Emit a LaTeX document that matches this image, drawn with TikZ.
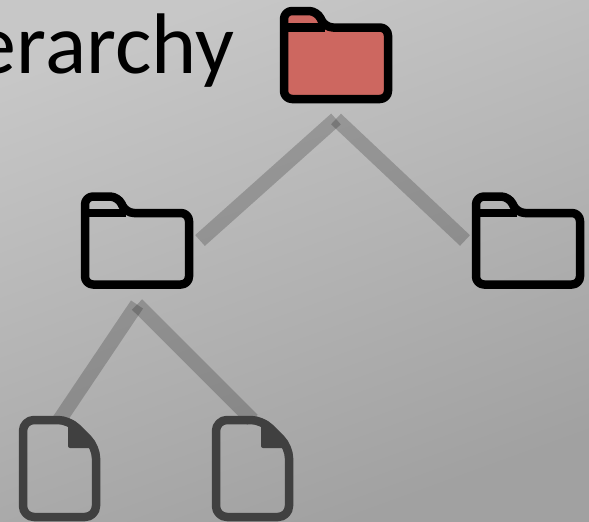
\documentclass[tikz,border=0pt]{standalone}
\usepackage{fontspec}
\setmainfont{Carlito}
\definecolor{folderred}{RGB}{205,103,96}
\definecolor{filegray}{RGB}{64,64,64}
\tikzset{
	folderbox/.style={inner sep=0pt,minimum width=104pt,minimum height=88pt,outer xsep=11pt,outer ysep=20pt},
	filebox/.style={inner sep=0pt,minimum width=73pt,minimum height=97pt},
	folderline/.style={draw=black,line width=8.5pt,line join=round},
	fileline/.style={draw=filegray,line width=8.5pt,line join=round},
	connector/.style={draw=black,draw opacity=0.2,line width=14.5pt},
	pics/folderpic/.style={code={
		\draw[folderline,rounded corners=8pt,fill=#1] (-52,44) -- (52,44) -- (52,-27.5) -- (-11,-27.5) -- (-19,-44) -- (-52,-44) -- cycle;
		\draw[folderline] (-52,-27.5) -- (-11,-27.5);
	}},
	pics/filepic/.style={code={
		\draw[fileline,rounded corners=11pt] (-36.5,-48.5) -- (9.5,-48.5) -- (36.5,-21.5) -- (36.5,48.5) -- (-36.5,48.5) -- cycle;
		\fill[filegray,rounded corners=2pt] (8.5,-48.5) -- (8.5,-20.5) -- (36.5,-20.5) -- (36.5,-25) -- (12,-50) -- cycle;
	}}
}
\begin{document}
\begin{tikzpicture}[x=1pt,y=-1pt]
	\useasboundingbox (0,0) rectangle (589,522);
	\shade[shading=axis,top color=black!22,bottom color=black!37,shading angle=20] (0,0) rectangle (589,522);

	\coordinate (px1) at (336,55);
	\coordinate (px2) at (137,240.5);
	\coordinate (px3) at (528,240.5);
	\coordinate (px4) at (59.5,468.5);
	\coordinate (px5) at (252.5,468.5);

	\node[folderbox] (x1) at (px1) {};
	\node[folderbox] (x2) at (px2) {};
	\node[folderbox] (x3) at (px3) {};
	\node[filebox] (x4) at (px4) {};
	\node[filebox] (x5) at (px5) {};

	\draw[connector] (x1.south) -- (x2.east);
	\draw[connector] (x1.south) -- (x3.west);
	\draw[connector] (x2.south) -- (x4.north);
	\draw[connector] (x2.south) -- (x5.north);

	\pic at (px1) {folderpic=folderred};
	\pic at (px2) {folderpic=none};
	\pic at (px3) {folderpic=none};
	\pic at (px4) {filepic};
	\pic at (px5) {filepic};

	\node[anchor=base east,inner sep=0pt,font=\fontsize{86}{86}\selectfont] (title) at (234,73.5) {erarchy};
\end{tikzpicture}
\end{document}
